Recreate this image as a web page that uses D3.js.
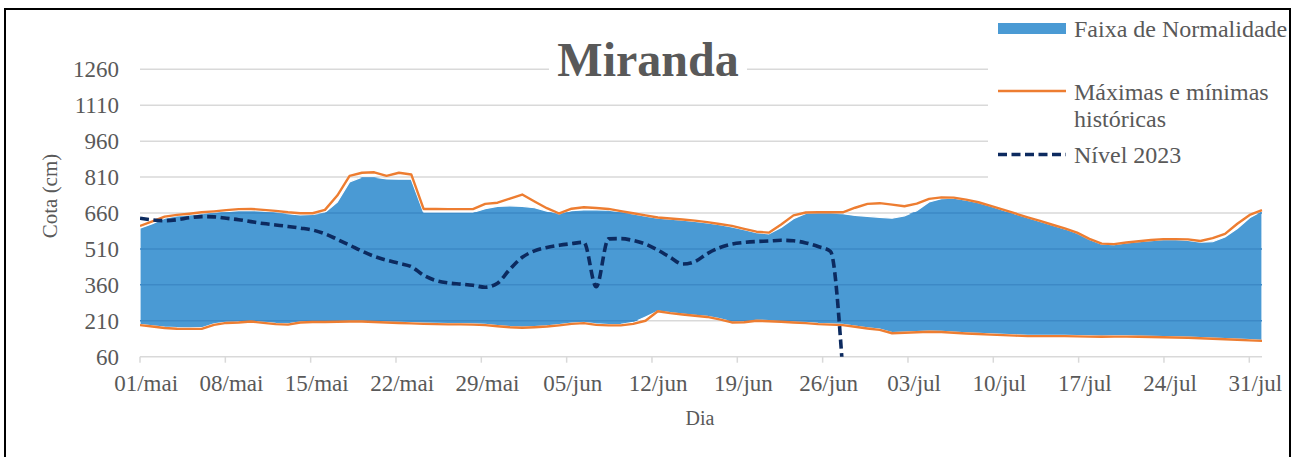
<!DOCTYPE html>
<html>
<head>
<meta charset="utf-8">
<script src="https://cdn.jsdelivr.net/npm/d3@7"></script>
<style>
  html, body { margin: 0; padding: 0; background: #fff; }
  svg { display: block; font-family: "Liberation Serif", "Times New Roman", serif; }
  svg text { font-family: "Liberation Serif", "Times New Roman", serif; }
</style>
</head>
<body>
<svg id="chart" width="1298" height="457"></svg>
<script>
// ---------- DATA ----------
const startDate = "2023-05-01";
const dayCount = 92; // 01/mai .. 31/jul

const xTickLabels = ["01/mai","08/mai","15/mai","22/mai","29/mai","05/jun","12/jun","19/jun","26/jun","03/jul","10/jul","17/jul","24/jul","31/jul"];
const yTickValues = [60, 210, 360, 510, 660, 810, 960, 1110, 1260];

// Máximas históricas (cm)
const maxHist = [606,625,645,652,657,663,667,672,676,677,673,669,663,659,659,673,733,815,828,830,
  815,828,821,677,677,676,676,676,698,703,720,737,708,680,658,678,684,681,677,668,
  659,650,641,637,633,628,622,614,606,594,582,578,612,650,662,663,663,663,682,698,
  701,695,688,699,719,725,724,716,705,690,674,658,642,627,611,596,578,552,532,530,
  537,542,547,551,551,550,543,555,573,615,652,672];

// Mínimas históricas (cm)
const minHist = [192,186,180,177,176,176,193,201,203,207,201,196,194,203,205,205,206,207,207,205,
  203,201,199,197,196,195,195,194,192,187,183,181,183,186,191,197,200,193,191,191,
  197,210,250,242,236,231,226,216,203,204,210,208,206,203,200,196,194,192,185,178,
  172,158,160,162,164,163,160,157,155,152,150,148,146,146,146,146,145,144,143,144,
  144,143,142,141,140,139,137,135,133,131,128,126];

// Faixa de Normalidade: limite superior (cm)
const bandUpper = [597,615,638,648,652,657,661,666,670,671,668,663,657,652,654,662,705,790,810,810,
  802,801,801,662,662,662,662,662,678,688,690,688,682,668,656,670,673,673,672,665,
  656,647,638,634,630,625,619,611,602,590,578,573,600,636,658,659,659,657,650,646,
  642,638,648,670,706,720,722,714,703,688,672,656,640,625,609,594,576,550,530,528,
  535,540,545,549,549,546,538,540,560,595,640,668];

// Faixa de Normalidade: limite inferior (cm)
const bandLower = [195,189,184,181,180,181,197,204,206,209,204,199,197,206,208,208,209,210,210,208,
  206,204,202,200,199,198,198,197,195,190,186,184,186,189,194,200,203,197,194,195,
  203,226,250,244,238,233,228,219,206,207,212,211,209,206,203,199,197,195,188,181,
  175,161,163,165,167,166,163,160,158,155,153,151,149,149,149,149,148,147,146,147,
  147,146,145,144,143,142,140,138,136,134,131,128];

// Nível 2023 (cm)
const nivel2023 = [638,631,628,632,640,645,644,638,632,624,616,610,604,597,589,573,550,526,501,479,
  463,450,436,400,378,368,363,358,350,367,425,475,502,516,525,532,538,352,552,553,
  545,530,505,475,447,457,490,515,530,537,541,543,546,544,535,520,500,0];

const seriesNames = ["Faixa de Normalidade", "Máximas e mínimas", "históricas", "Nível 2023"];

// ---------- CHART ----------
const svg = d3.select("#chart");
const plot = { left: 140, right: 1262, top: 69.3, bottom: 356.7 };
const FONT = "Liberation Serif, Times New Roman, serif";

const parse = d3.timeParse("%Y-%m-%d");
const days = d3.timeDay.range(parse(startDate), d3.timeDay.offset(parse(startDate), dayCount));
const idx = d3.range(days.length);

const xBand = d3.scaleBand().domain(idx).range([plot.left, plot.left + 12.19 * dayCount]);
const xPt = d3.scalePoint().domain(idx).range([plot.left, plot.right]);
const y = d3.scaleLinear().domain([60, 1260]).range([plot.bottom, plot.top]);

const textColor = "#595959";
const gridColor = "#d9d9d9";
const blue = "#4a9ad4", orange = "#ED7D31", navy = "#0c2a5f";

// outer border
svg.append("rect").attr("x", 5).attr("y", 9).attr("width", 1285).attr("height", 470)
  .attr("fill", "#fff").attr("stroke", "#000").attr("stroke-width", 2);

// clip
const defs = svg.append("defs");
defs.append("clipPath").attr("id", "plotClip").append("rect")
  .attr("x", plot.left).attr("y", plot.top - 5).attr("width", plot.right - plot.left + 2)
  .attr("height", plot.bottom - plot.top + 5);

// gridlines
svg.append("g").selectAll("line").data(yTickValues.filter(v => v > 60)).join("line")
  .attr("x1", plot.left).attr("x2", plot.right)
  .attr("y1", d => y(d)).attr("y2", d => y(d))
  .attr("stroke", gridColor).attr("stroke-width", 1.5);

// area band
const areaGen = d3.area()
  .x((d, i) => xPt(i))
  .y0((d, i) => y(bandLower[i]))
  .y1((d, i) => y(bandUpper[i]));
const areaPath = areaGen(idx);
svg.append("path").attr("d", areaPath).attr("fill", blue)
  .attr("stroke", "#fff").attr("stroke-width", 1.2);

defs.append("clipPath").attr("id", "areaClip").append("path").attr("d", areaPath);
svg.append("g").attr("clip-path", "url(#areaClip)").selectAll("line")
  .data(yTickValues.filter(v => v > 60)).join("line")
  .attr("x1", plot.left).attr("x2", plot.right)
  .attr("y1", d => y(d)).attr("y2", d => y(d))
  .attr("stroke", "#3d89c6").attr("stroke-width", 1.5);

// x axis line + tick marks
svg.append("line").attr("x1", plot.left).attr("x2", plot.right)
  .attr("y1", plot.bottom).attr("y2", plot.bottom)
  .attr("stroke", gridColor).attr("stroke-width", 1.5);
const tickIdx = d3.range(0, dayCount, 7);
svg.append("g").selectAll("line").data(tickIdx).join("line")
  .attr("x1", d => xBand(d)).attr("x2", d => xBand(d))
  .attr("y1", plot.bottom).attr("y2", plot.bottom + 6)
  .attr("stroke", gridColor).attr("stroke-width", 1.5);

// x labels via axis
const xAxis = d3.axisBottom(xBand).tickValues(tickIdx).tickSize(0).tickPadding(0)
  .tickFormat((d, i) => xTickLabels[i]);
const gx = svg.append("g").attr("transform", `translate(0,${plot.bottom + 18})`).call(xAxis)
  .attr("font-family", FONT);
gx.select(".domain").remove();
gx.selectAll("text").attr("fill", textColor).attr("font-size", 23).attr("dy", "0.71em");

// y labels via axis
const yAxis = d3.axisLeft(y).tickValues(yTickValues).tickSize(0).tickPadding(21)
  .tickFormat(d3.format("d"));
const gy = svg.append("g").attr("transform", `translate(${plot.left},0)`).call(yAxis)
  .attr("font-family", FONT);
gy.select(".domain").remove();
gy.selectAll("text").attr("fill", textColor).attr("font-size", 23);

// lines
const lineGen = arr => d3.line().x((d, i) => xPt(i)).y(d => y(d))(arr);
const gLines = svg.append("g").attr("clip-path", "url(#plotClip)");
gLines.append("path").attr("d", lineGen(maxHist)).attr("fill", "none")
  .attr("stroke", orange).attr("stroke-width", 2.4).attr("stroke-linejoin", "round");
gLines.append("path").attr("d", lineGen(minHist)).attr("fill", "none")
  .attr("stroke", orange).attr("stroke-width", 2.4).attr("stroke-linejoin", "round");
gLines.append("path")
  .attr("d", d3.line().x((d, i) => xPt(i)).y(d => y(d)).curve(d3.curveMonotoneX)(nivel2023))
  .attr("fill", "none").attr("stroke", navy).attr("stroke-width", 3.6)
  .attr("stroke-dasharray", "9,4.5");

// axis titles
svg.append("text").attr("transform", "translate(57,196) rotate(-90)")
  .attr("text-anchor", "middle").attr("fill", textColor).attr("font-size", 21)
  .text("Cota (cm)");
svg.append("text").attr("x", 700).attr("y", 425).attr("text-anchor", "middle")
  .attr("fill", textColor).attr("font-size", 20).text("Dia");

// title
svg.append("rect").attr("x", 549).attr("y", 38).attr("width", 198).attr("height", 48).attr("fill", "#fff");
svg.append("text").attr("x", 648).attr("y", 76).attr("text-anchor", "middle")
  .attr("fill", textColor).attr("font-size", 48).attr("font-weight", "bold").text("Miranda");

// legend
svg.append("rect").attr("x", 988).attr("y", 11).attr("width", 300).attr("height", 180).attr("fill", "#fff");
const lx = 998, lw = 68, tx = 1074;
svg.append("rect").attr("x", lx).attr("y", 23).attr("width", lw).attr("height", 11).attr("fill", blue);
svg.append("text").attr("x", tx).attr("y", 37).attr("fill", textColor).attr("font-size", 24).text(seriesNames[0]);
svg.append("line").attr("x1", lx).attr("x2", lx + lw).attr("y1", 91).attr("y2", 91)
  .attr("stroke", orange).attr("stroke-width", 2.4);
svg.append("text").attr("x", tx).attr("y", 100).attr("fill", textColor).attr("font-size", 24).text(seriesNames[1]);
svg.append("text").attr("x", tx).attr("y", 127).attr("fill", textColor).attr("font-size", 24).text(seriesNames[2]);
svg.append("line").attr("x1", lx).attr("x2", lx + lw).attr("y1", 154.5).attr("y2", 154.5)
  .attr("stroke", navy).attr("stroke-width", 3.6).attr("stroke-dasharray", "9,4.5");
svg.append("text").attr("x", tx).attr("y", 163).attr("fill", textColor).attr("font-size", 24).text(seriesNames[3]);
</script>
</body>
</html>
